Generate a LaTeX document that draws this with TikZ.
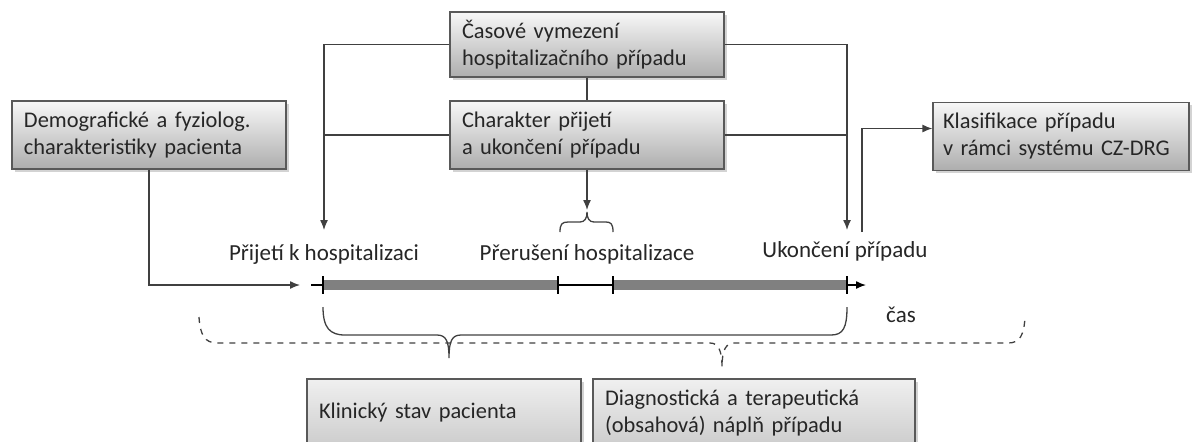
\documentclass[tikz,border=0pt]{standalone}
\usepackage{fontspec}
\setmainfont{Carlito}
\usetikzlibrary{shadows,arrows.meta}

\tikzset{
  box/.style={draw=black!65, line width=0.6pt, top color=black!3, bottom color=black!32,
    align=left, inner xsep=6pt, inner ysep=3pt, minimum height=34pt, text=black!85,
    font=\fontsize{11.2}{13.5}\selectfont,
    drop shadow={shadow xshift=1.3pt, shadow yshift=-1.3pt, opacity=0.35}},
  lowbox/.style={box, top color=black!6, bottom color=black!20},
  lbl/.style={font=\fontsize{11.5}{13.5}\selectfont, inner sep=0pt, text=black!85},
  conn/.style={draw=black!75, line width=0.65pt},
  arr/.style={conn, -{Latex[length=5pt,width=4pt]}},
  bar/.style={line width=5pt, draw=black!50},
  tick/.style={line width=0.9pt, draw=black},
}

\begin{document}
\begin{tikzpicture}[x=0.5pt,y=-0.5pt]
  \useasboundingbox (0,0) rectangle (1197,441);
  \clip (0,0) rectangle (1197,441);

  %% boxes
  \node[box, text width=125pt, minimum height=32.5pt] (casbox) at (587,44.5)
    {Časové vymezení\\hospitalizačního případu};
  \node[box, text width=125pt] (charbox) at (587,135)
    {Charakter přijetí\\a ukončení případu};
  \node[box, text width=125pt] (demobox) at (149,135)
    {Demografické a fyziolog.\\charakteristiky pacienta};
  \node[box, text width=118pt, inner xsep=5pt] (klasbox) at (1061,136.5)
    {Klasifikace případu\\\mbox{v rámci systému CZ-DRG}};
  \node[lowbox, text width=125pt] (klinbox) at (444,413)
    {Klinický stav pacienta};
  \node[lowbox, text width=149pt] (diagbox) at (754,413)
    {Diagnostická a terapeutická\\(obsahová) náplň případu};

  %% labels on the time axis
  \node[lbl, anchor=base] (prijlbl) at (324,260) {Přijetí k hospitalizaci};
  \node[lbl, anchor=base] (prerlbl) at (587,260) {Přerušení hospitalizace};
  \node[lbl, anchor=base] (ukonlbl) at (845,257) {Ukončení případu};
  \node[lbl, anchor=base] (caslbl) at (901,322) {čas};

  %% time axis
  \coordinate (tin) at (300,285);
  \coordinate (t0) at (323,285);
  \coordinate (t1) at (558,285);
  \coordinate (t2) at (613,285);
  \coordinate (t3) at (847,285);
  \coordinate (tend) at (866,285);
  \draw[bar] (t0) -- (t1);
  \draw[bar] (t2) -- (t3);
  \draw[line width=0.7pt] (311,285) -- (t0);
  \draw[line width=0.7pt] (t1) -- (t2);
  \draw[line width=0.7pt, -{Latex[length=5pt,width=4pt]}] (t3) -- (tend);
  \foreach \t in {t0,t1,t2,t3}
    \draw[tick] ([yshift=4.5pt]\t) -- ([yshift=-4.5pt]\t);

  %% connectors
  \coordinate (adm) at (324,230);
  \coordinate (dis) at (847,230);
  \coordinate (brtip) at (587,210);
  \coordinate (klstart) at (862,232);
  \draw[conn] (casbox.south) -- (charbox.north);
  \draw[arr] (casbox.west) -| (adm);
  \draw[conn] (charbox.west) -- (charbox.west -| adm);
  \draw[arr] (casbox.east) -| (dis);
  \draw[conn] (charbox.east) -- (charbox.east -| dis);
  \draw[arr] (charbox.south) -- (brtip);
  \draw[arr] (klstart) |- ([yshift=4pt]klasbox.west);
  \draw[arr] (demobox.south) |- (tin);

  %% braces
  \draw[conn] (560,232) .. controls (560,224) and (562,222) .. (568,222) -- (580,222)
    .. controls (585,222) and (587,218) .. (587,212)
    .. controls (587,218) and (589,222) .. (594,222) -- (606,222)
    .. controls (611,222) and (613,224) .. (613,232);
  \draw[conn] (323,307) .. controls (323,328) and (330,335) .. (345,335) -- (437,335)
    .. controls (446,335) and (449,341) .. (449,358)
    .. controls (449,341) and (452,335) .. (461,335) -- (831,335)
    .. controls (843,335) and (847,328) .. (847,307);
  \draw[conn, dashed] (199,317) .. controls (200,335) and (205,343) .. (217,343) -- (710,343)
    .. controls (718,343) and (722,350) .. (722,367)
    .. controls (722,350) and (726,343) .. (734,343) -- (1008,343)
    .. controls (1020,343) and (1024,335) .. (1025,317);
\end{tikzpicture}
\end{document}
